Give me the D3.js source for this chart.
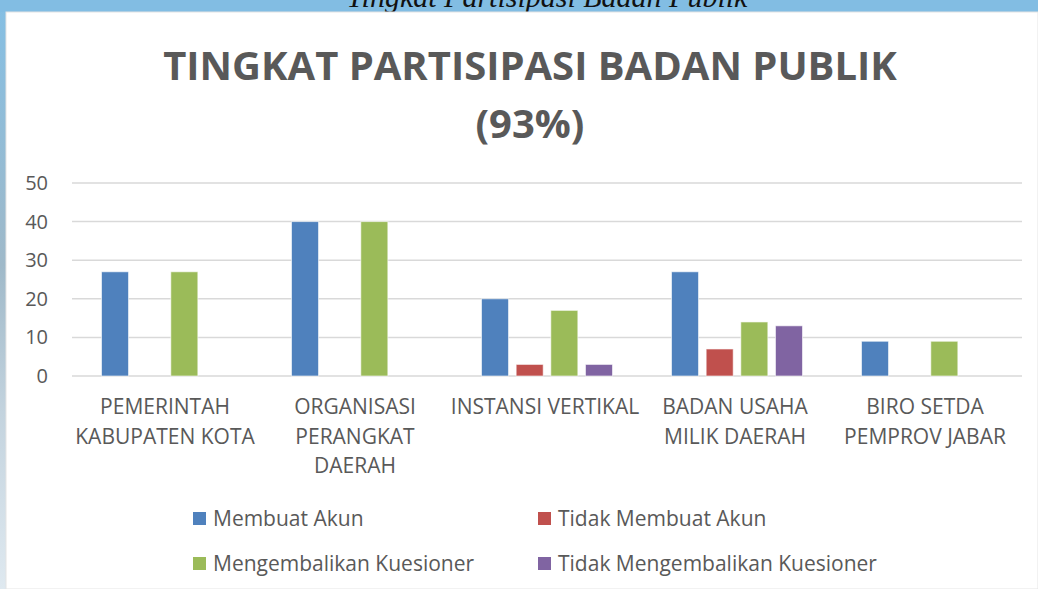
<!DOCTYPE html>
<html>
<head>
<meta charset="utf-8">
<script src="https://cdn.jsdelivr.net/npm/d3@7.9.0/dist/d3.min.js"></script>
<style>
  body { margin: 0; background: #fff; }
  svg { display: block; }
</style>
</head>
<body>
<svg id="chart" width="1038" height="589"></svg>
<script>
const categories = [
    ['PEMERINTAH', 'KABUPATEN KOTA'],
    ['ORGANISASI', 'PERANGKAT', 'DAERAH'],
    ['INSTANSI VERTIKAL'],
    ['BADAN USAHA', 'MILIK DAERAH'],
    ['BIRO SETDA', 'PEMPROV JABAR'],
];
const seriesNames = ['Membuat Akun', 'Tidak Membuat Akun', 'Mengembalikan Kuesioner', 'Tidak Mengembalikan Kuesioner'];
const membuatAkun = [27, 40, 20, 27, 9];
const tidakMembuatAkun = [0, 0, 3, 7, 0];
const mengembalikan = [27, 40, 17, 14, 9];
const tidakMengembalikan = [0, 0, 3, 13, 0];
const yTicks = [0, 10, 20, 30, 40, 50];
const colors = ['#4f81bd', '#c0504d', '#9bbb59', '#8064a2'];

const svg = d3.select('#chart');
const width = 1038;
const height = 589;

// slide background behind the chart panel
const grad = svg.append('defs').append('linearGradient')
    .attr('id', 'side').attr('x1', 0).attr('y1', 0).attr('x2', 0).attr('y2', 1);
grad.append('stop').attr('offset', '0%').attr('stop-color', '#84bfe4');
grad.append('stop').attr('offset', '45%').attr('stop-color', '#9fb9c9');
grad.append('stop').attr('offset', '70%').attr('stop-color', '#c3d3de');
grad.append('stop').attr('offset', '100%').attr('stop-color', '#dfe9f0');
svg.append('rect').attr('width', width).attr('height', height).attr('fill', 'url(#side)');
svg.append('rect').attr('width', width).attr('height', 12).attr('fill', '#82bde3');

// slide heading, cut off by the top edge as in the original screenshot
svg.append('text')
    .attr('x', 547).attr('y', 7)
    .attr('text-anchor', 'middle')
    .style('font-family', '"Liberation Serif", serif')
    .style('font-style', 'italic')
    .style('font-size', '30px')
    .attr('fill', '#111')
    .text('Tingkat Partisipasi Badan Publik');

svg.append('rect')
    .attr('x', 6).attr('y', 12)
    .attr('width', width - 6).attr('height', height - 12)
    .attr('fill', '#fff')
    .attr('stroke', '#e4e4e4').attr('stroke-width', 1);

// title
const title = svg.append('g')
    .style('font-family', '"Open Sans", sans-serif')
    .style('font-weight', 'bold')
    .attr('fill', '#595959')
    .attr('text-anchor', 'middle');
const t1 = title.append('text').attr('x', 530).attr('y', 80)
    .style('font-size', '36px').text('TINGKAT PARTISIPASI BADAN PUBLIK');
// fit to the width of the original title
const fs = 36 * 734 / t1.node().getComputedTextLength();
t1.style('font-size', fs + 'px');
title.append('text').attr('x', 530).attr('y', 138)
    .style('font-size', fs + 'px').text('(93%)');

const margin = { top: 183, right: 16, bottom: 213, left: 72 };
const plotBottom = height - margin.bottom;
const clusterWidth = 131;

const x0 = d3.scaleBand()
    .domain(d3.range(categories.length))
    .range([margin.left, width - margin.right]);

const x1 = d3.scaleBand()
    .domain(d3.range(seriesNames.length))
    .range([0, clusterWidth])
    .paddingInner(0.22);

const y = d3.scaleLinear().domain([0, 50]).range([plotBottom, margin.top]);

// gridlines
svg.append('g')
    .selectAll('line')
    .data(yTicks)
    .join('line')
    .attr('x1', margin.left).attr('x2', width - margin.right)
    .attr('y1', (d) => y(d)).attr('y2', (d) => y(d))
    .attr('stroke', '#d9d9d9').attr('stroke-width', 1.5);

// y axis labels
const yAxis = d3.axisLeft(y).tickValues(yTicks).tickSize(0).tickPadding(0);
svg.append('g')
    .attr('transform', `translate(48, 0)`)
    .call(yAxis)
    .call((g) => g.select('.domain').remove())
    .selectAll('text')
    .attr('fill', '#595959')
    .style('font-family', '"Open Sans", sans-serif')
    .style('font-size', '20px');

// bars
const seriesValues = [membuatAkun, tidakMembuatAkun, mengembalikan, tidakMengembalikan];
const groups = svg.append('g')
    .selectAll('g')
    .data(categories.map((c, i) => i))
    .join('g')
    .attr('transform', (i) => `translate(${x0(i) + (x0.bandwidth() - clusterWidth) / 2}, 0)`);

groups.selectAll('rect')
    .data((i) => seriesValues.map((vals, s) => ({ s, v: vals[i] })).filter((d) => d.v > 0))
    .join('rect')
    .attr('x', (d) => x1(d.s))
    .attr('width', x1.bandwidth())
    .attr('y', (d) => y(d.v))
    .attr('height', (d) => y(0) - y(d.v))
    .attr('fill', (d) => colors[d.s])
    .attr('stroke', '#fff').attr('stroke-opacity', 0.6).attr('stroke-width', 1);

// category labels
const catLabels = svg.append('g')
    .style('font-family', '"Open Sans", sans-serif')
    .style('font-size', '21px')
    .attr('fill', '#595959')
    .attr('text-anchor', 'middle');
categories.forEach((lines, i) => {
    const cx = x0(i) + x0.bandwidth() / 2 - 2;
    const t = catLabels.append('text')
        .attr('x', cx)
        .attr('y', 414);
    lines.forEach((ln, k) => {
        t.append('tspan')
            .attr('x', cx)
            .attr('dy', k === 0 ? 0 : 29.5)
            .text(ln);
    });
});

// legend
const legendX = [193, 538];
const legendY = [512, 557];
const legend = svg.append('g')
    .style('font-family', '"Open Sans", sans-serif')
    .style('font-size', '21px')
    .attr('fill', '#595959');
seriesNames.forEach((name, s) => {
    const lx = legendX[s % 2];
    const ly = legendY[Math.floor(s / 2)];
    legend.append('rect')
        .attr('x', lx).attr('y', ly)
        .attr('width', 13).attr('height', 13)
        .attr('fill', colors[s]);
    legend.append('text')
        .attr('x', lx + 20).attr('y', ly + 14)
        .text(name);
});
</script>
</body>
</html>
